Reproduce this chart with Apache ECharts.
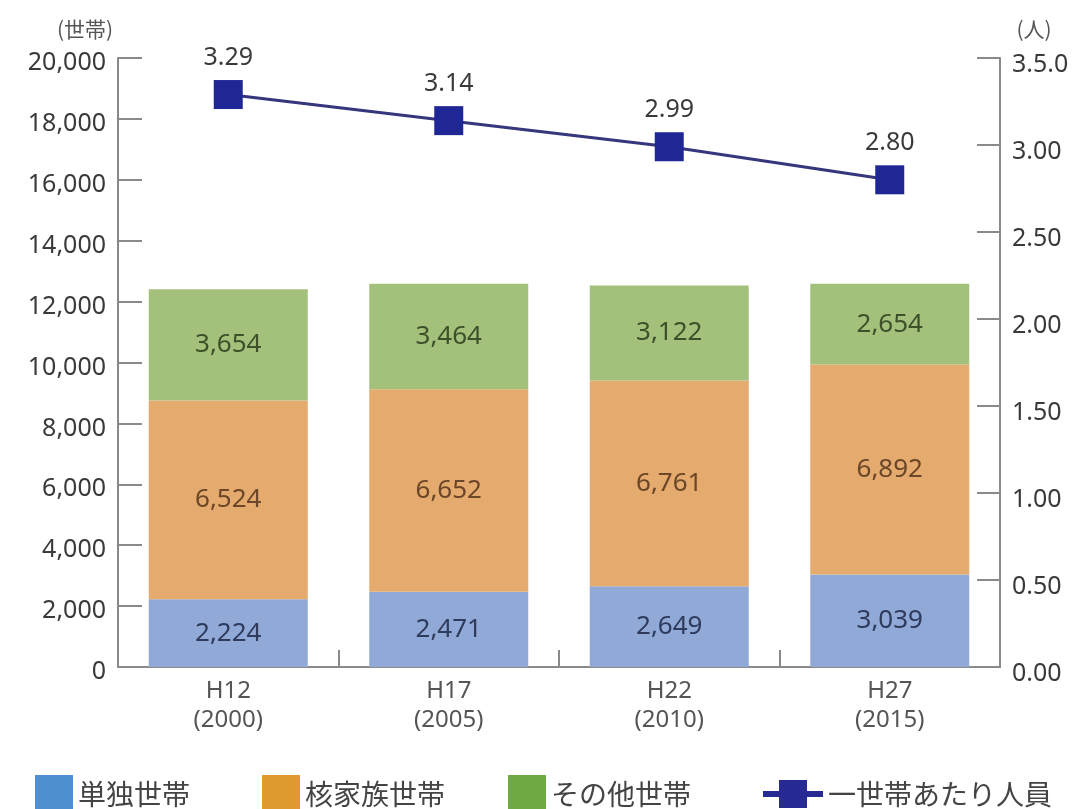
<!DOCTYPE html>
<html>
<head>
<meta charset="utf-8">
<script src="https://cdn.jsdelivr.net/npm/echarts@6/dist/echarts.min.js"></script>
<style>
  html, body { margin: 0; padding: 0; background: #ffffff; }
  #chart { width: 1086px; height: 809px; }
</style>
</head>
<body>
<div id="chart"></div>
<script>
// Survey years (Heisei era / western year)
const categories = ['H12\n(2000)', 'H17\n(2005)', 'H22\n(2010)', 'H27\n(2015)'];

// Households by type (世帯)
const single = [2224, 2471, 2649, 3039];     // 単独世帯
const nuclear = [6524, 6652, 6761, 6892];    // 核家族世帯
const other = [3654, 3464, 3122, 2654];      // その他世帯

// Persons per household (人)
const perHousehold = [3.29, 3.14, 2.99, 2.80];

// Right-axis tick labels, bottom to top
const rightTickLabels = ['0.00', '0.50', '1.00', '1.50', '2.00', '2.50', '3.00', '3.5.0'];

const totals = categories.map((_, i) => single[i] + nuclear[i] + other[i]);

const FONT = '"Noto Sans", "Noto Sans CJK JP", sans-serif';
const CJK = '"Noto Sans CJK JP", "Noto Sans", sans-serif';
const fmt = v => v.toLocaleString('en-US');

const barColors = { single: '#91a9d7', nuclear: '#e4aa6e', other: '#a4c17b' };
const legendColors = { single: '#4d8fcf', nuclear: '#e09a32', other: '#6fa944', line: '#262a92' };

const chart = echarts.init(document.getElementById('chart'), null, { renderer: 'canvas' });

function barSeries(name, data, color, labelColor) {
  return {
    name: name,
    type: 'bar',
    stack: 'households',
    data: data,
    barWidth: 159,
    itemStyle: { color: color },
    label: {
      show: true,
      position: 'inside',
      formatter: p => fmt(p.value),
      color: labelColor,
      fontFamily: FONT,
      fontSize: 26
    },
    z: 2
  };
}

function legendFor(name, left, color) {
  return {
    left: left,
    top: 770,
    data: [{ name: name, itemStyle: { color: color } }],
    itemWidth: 38,
    itemHeight: 38,
    itemGap: 6,
    textStyle: { fontFamily: CJK, fontSize: 28, color: '#444444' },
    icon: 'rect'
  };
}

chart.setOption({
  backgroundColor: '#ffffff',
  animation: false,
  grid: { left: 118, right: 86, top: 58, bottom: 142 },
  legend: [
    legendFor('単独世帯', 30, legendColors.single),
    legendFor('核家族世帯', 257, legendColors.nuclear),
    legendFor('その他世帯', 503, legendColors.other),
    {
      left: 758,
      top: 775,
      data: [{
        name: '一世帯あたり人員',
        icon: 'path://M0,11 L16,11 L16,0 L44,0 L44,11 L60,11 L60,17 L44,17 L44,28 L16,28 L16,17 L0,17 Z',
        itemStyle: { color: legendColors.line }
      }],
      itemWidth: 60,
      itemHeight: 28,
      textStyle: { fontFamily: CJK, fontSize: 28, color: '#444444' }
    }
  ],
  xAxis: {
    type: 'category',
    data: categories,
    axisLine: { lineStyle: { color: '#8a8a8a', width: 2 } },
    axisTick: { show: true, inside: true, length: 17, lineStyle: { color: '#8a8a8a', width: 2 } },
    axisLabel: {
      color: '#555555',
      fontFamily: FONT,
      fontSize: 24,
      lineHeight: 29,
      margin: 10
    }
  },
  yAxis: [
    {
      type: 'value',
      min: 0,
      max: 20000,
      interval: 2000,
      name: '(世帯)',
      nameLocation: 'end',
      nameGap: 18,
      nameTextStyle: { fontFamily: CJK, fontSize: 21, color: '#555555', padding: [0, 66, 0, 0] },
      splitLine: { show: false },
      axisLine: { show: true, lineStyle: { color: '#8a8a8a', width: 2 } },
      axisTick: { show: true, inside: true, length: 24, lineStyle: { color: '#8a8a8a', width: 2 } },
      axisLabel: {
        color: '#3a3a3a',
        fontFamily: FONT,
        fontSize: 25,
        margin: 12,
        verticalAlign: 'top',
        lineHeight: 30,
        padding: [-10, 0, 0, 0],
        formatter: v => fmt(v)
      }
    },
    {
      type: 'value',
      min: 0,
      max: 3.5,
      interval: 0.5,
      name: '(人)',
      nameLocation: 'end',
      nameGap: 18,
      nameTextStyle: { fontFamily: CJK, fontSize: 21, color: '#555555', padding: [0, 0, 0, 68] },
      splitLine: { show: false },
      axisLine: { show: true, lineStyle: { color: '#8a8a8a', width: 2 } },
      axisTick: { show: true, inside: true, length: 23, lineStyle: { color: '#8a8a8a', width: 2 } },
      axisLabel: {
        color: '#3a3a3a',
        fontFamily: FONT,
        fontSize: 25,
        margin: 12,
        verticalAlign: 'top',
        lineHeight: 30,
        padding: [-8, 0, 0, 0],
        formatter: (v) => rightTickLabels[Math.round(v / 0.5)]
      }
    }
  ],
  series: [
    barSeries('単独世帯', single, barColors.single, '#2e3b5c'),
    barSeries('核家族世帯', nuclear, barColors.nuclear, '#6b4628'),
    barSeries('その他世帯', other, barColors.other, '#3d5029'),
    {
      name: 'total',
      type: 'scatter',
      data: totals,
      symbolSize: 1,
      itemStyle: { opacity: 0 },
      label: {
        show: true,
        position: 'top',
        distance: 6,
        formatter: p => fmt(totals[p.dataIndex]),
        color: '#3a3a3a',
        fontFamily: FONT,
        fontSize: 26
      },
      silent: true,
      z: 3
    },
    {
      name: '一世帯あたり人員',
      type: 'line',
      yAxisIndex: 1,
      data: perHousehold,
      symbol: 'rect',
      symbolSize: 29,
      lineStyle: { color: '#35367c', width: 3 },
      itemStyle: { color: '#1f2796' },
      label: {
        show: true,
        position: 'top',
        distance: 10,
        formatter: p => p.value.toFixed(2),
        color: '#3a3a3a',
        fontFamily: FONT,
        fontSize: 25
      },
      z: 5
    }
  ]
});
</script>
</body>
</html>
